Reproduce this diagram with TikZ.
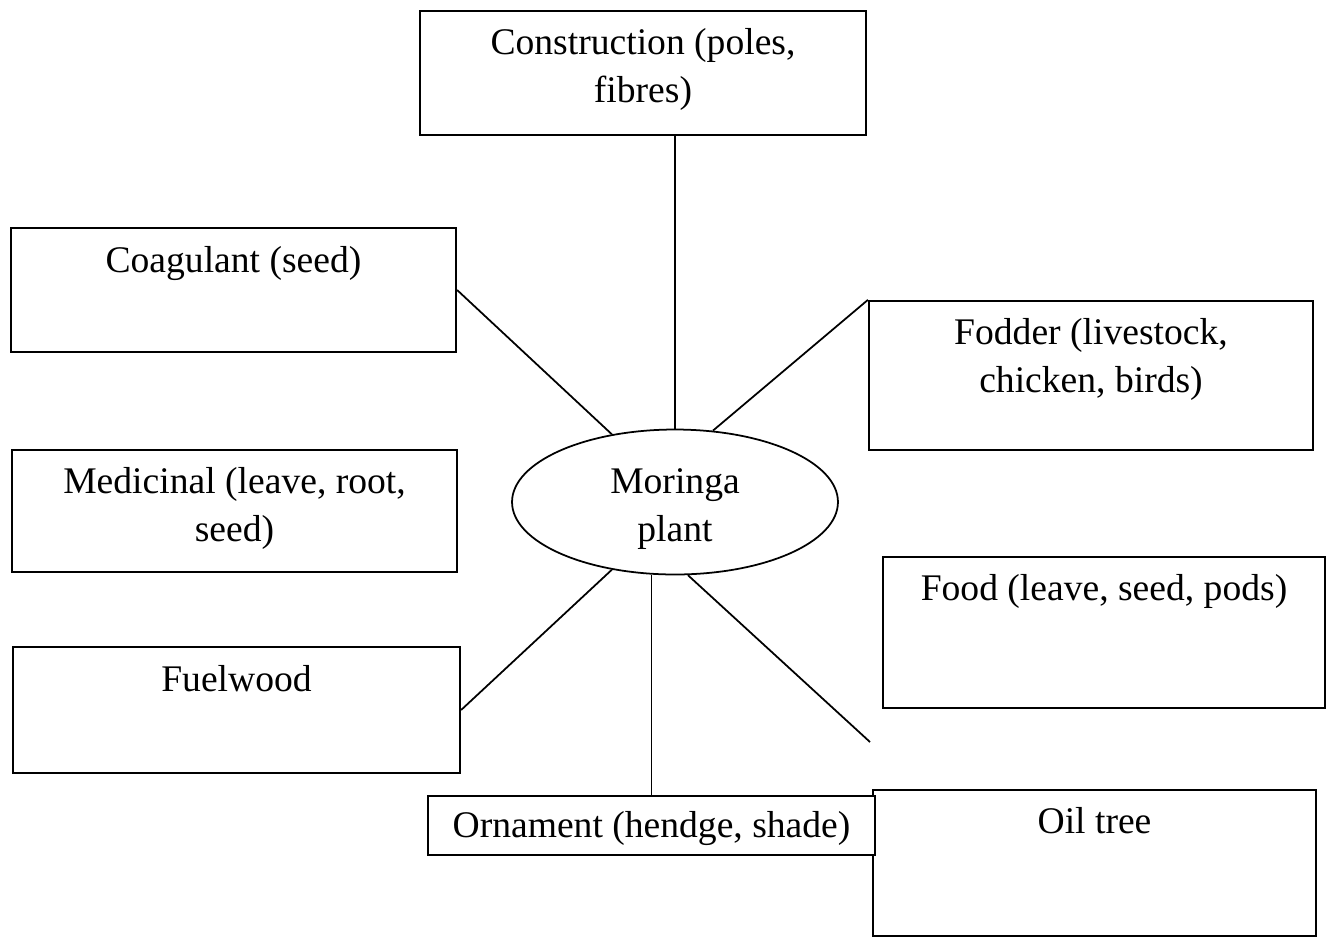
\documentclass[tikz,border=0pt]{standalone}
\usepackage{fontspec}
\setmainfont{Liberation Serif}
\usetikzlibrary{shapes.geometric, positioning}

\begin{document}
\begin{tikzpicture}[
  x=0.02cm, y=-0.02cm,
  font=\fontsize{21.4}{27.3}\selectfont,
  box/.style={draw, line width=1.3pt, minimum width=8.9cm, inner sep=0pt},
  txt/.style={align=center, inner sep=0pt},
  link/.style={line width=1pt}
]
\useasboundingbox (0,0) rectangle (1333,938);

% centre
\node[draw, ellipse, line width=1pt, minimum width=6.52cm, minimum height=2.9cm, inner sep=0pt] (moringa) at (675,502) {};
\node[txt, below=-0.68cm of moringa.center] (moringa-t) {Moringa\\plant};

% boxes round it
\node[box, minimum width=8.92cm, minimum height=2.48cm] (constr) at (643,73) {};
\node[txt, below=0.37cm of constr.north] (constr-t) {Construction (poles,\\fibres)};

\node[box, minimum height=2.48cm] (coag) at (233.5,290) {};
\node[txt, below=0.38cm of coag.north] (coag-t) {Coagulant (seed)};

\node[box, minimum height=2.44cm] (medic) at (234.5,511) {};
\node[txt, below=0.36cm of medic.north] (medic-t) {Medicinal (leave, root,\\seed)};

\node[box, minimum width=8.94cm, minimum height=2.52cm] (fuel) at (236.5,710) {};
\node[txt, below=0.38cm of fuel.north] (fuel-t) {Fuelwood};

\node[box, minimum width=8.88cm, minimum height=2.98cm] (fodder) at (1091,375.5) {};
\node[txt, below=0.37cm of fodder.north] (fodder-t) {Fodder (livestock,\\chicken, birds)};

\node[box, minimum width=8.84cm, minimum height=3.02cm] (food) at (1104,632.5) {};
\node[txt, below=0.37cm of food.north] (food-t) {Food (leave, seed, pods)};

\node[box, minimum width=8.86cm, minimum height=2.92cm] (oil) at (1094.5,863) {};
\node[txt, below=0.37cm of oil.north] (oil-t) {Oil tree};

\node[box, minimum width=8.94cm, minimum height=1.18cm, fill=white] (orna) at (651.5,825.5) {};
\node[txt, below=0.33cm of orna.north] (orna-t) {Ornament (hendge, shade)};

\coordinate (food-end) at (870,742);

% spokes
\draw[link] (constr.south -| moringa.north) -- (moringa.north);
\draw[link] (coag.east) -- (moringa.133);
\draw[link] (fodder.north west) -- (moringa.62);
\draw[link] (fuel.east) -- (moringa.227);
\draw[link] (orna.north) -- (orna.north |- moringa.south);
\draw[link] (moringa.280) -- (food-end);
\end{tikzpicture}
\end{document}
